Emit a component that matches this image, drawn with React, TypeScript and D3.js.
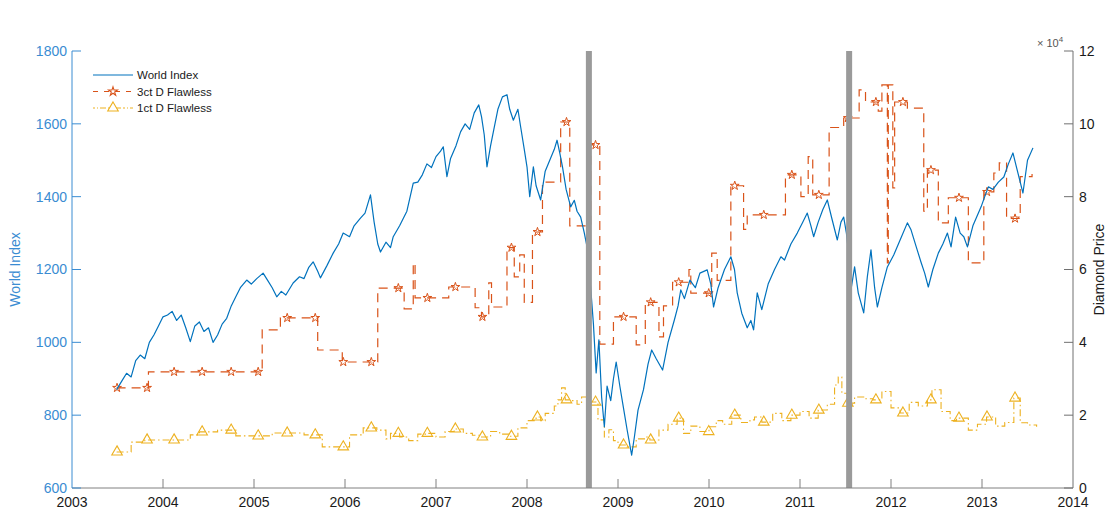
import { FC, useEffect, useRef } from 'react'
import * as d3 from 'd3'

type Pt = [number, number]

// MSCI World index level (year, index)
const worldIndex: Pt[] = [
  [2003.49, 870], [2003.55, 895], [2003.6, 915], [2003.65, 905], [2003.7, 950], [2003.75, 965],
  [2003.8, 955], [2003.85, 1000], [2003.9, 1020], [2003.95, 1045], [2004.0, 1070], [2004.05, 1075],
  [2004.1, 1085], [2004.15, 1060], [2004.2, 1075], [2004.25, 1040], [2004.3, 1002], [2004.35, 1045],
  [2004.4, 1056], [2004.45, 1030], [2004.5, 1040], [2004.55, 1000], [2004.6, 1020], [2004.65, 1050],
  [2004.7, 1066], [2004.75, 1100], [2004.8, 1125], [2004.85, 1150], [2004.92, 1171], [2004.97, 1160],
  [2005.03, 1175], [2005.1, 1190], [2005.15, 1170], [2005.2, 1150], [2005.25, 1125], [2005.3, 1140],
  [2005.35, 1130], [2005.43, 1163], [2005.5, 1180], [2005.55, 1175], [2005.6, 1205], [2005.65, 1221],
  [2005.7, 1195], [2005.73, 1177], [2005.8, 1210], [2005.87, 1245], [2005.93, 1270], [2005.98, 1300],
  [2006.05, 1290], [2006.1, 1320], [2006.17, 1341], [2006.22, 1355], [2006.28, 1405], [2006.32, 1330],
  [2006.36, 1270], [2006.39, 1248], [2006.45, 1275], [2006.5, 1260], [2006.53, 1290], [2006.6, 1320],
  [2006.68, 1360], [2006.75, 1437], [2006.8, 1440], [2006.85, 1460], [2006.9, 1490], [2006.95, 1480],
  [2007.0, 1510], [2007.05, 1525], [2007.08, 1537], [2007.12, 1455], [2007.16, 1505], [2007.22, 1540],
  [2007.27, 1578], [2007.32, 1600], [2007.37, 1585], [2007.42, 1630], [2007.47, 1652], [2007.5, 1620],
  [2007.53, 1570], [2007.56, 1482], [2007.6, 1540], [2007.64, 1590], [2007.68, 1640], [2007.73, 1674],
  [2007.78, 1680], [2007.81, 1640], [2007.85, 1610], [2007.9, 1640], [2007.93, 1592], [2007.97, 1530],
  [2008.0, 1482], [2008.03, 1400], [2008.07, 1482], [2008.1, 1430], [2008.15, 1391], [2008.2, 1470],
  [2008.25, 1500], [2008.3, 1530], [2008.33, 1555], [2008.36, 1520], [2008.39, 1482], [2008.43, 1420],
  [2008.48, 1372], [2008.52, 1390], [2008.55, 1360], [2008.59, 1344], [2008.63, 1300], [2008.66, 1262],
  [2008.7, 1150], [2008.73, 1050], [2008.76, 916], [2008.79, 1007], [2008.82, 850], [2008.85, 768],
  [2008.88, 880], [2008.92, 840], [2008.95, 900], [2008.98, 946], [2009.02, 880], [2009.06, 820],
  [2009.1, 760], [2009.15, 690], [2009.18, 740], [2009.22, 814], [2009.28, 870], [2009.33, 940],
  [2009.37, 979], [2009.42, 955], [2009.49, 924], [2009.55, 1000], [2009.62, 1062], [2009.66, 1100],
  [2009.69, 1144], [2009.73, 1120], [2009.79, 1171], [2009.85, 1150], [2009.9, 1190], [2009.98, 1199],
  [2010.02, 1160], [2010.05, 1097], [2010.1, 1150], [2010.17, 1200], [2010.24, 1235], [2010.28, 1200],
  [2010.31, 1136], [2010.36, 1080], [2010.42, 1040], [2010.46, 1060], [2010.49, 1034], [2010.53, 1136],
  [2010.58, 1090], [2010.65, 1160], [2010.72, 1200], [2010.79, 1235], [2010.83, 1226], [2010.9, 1270],
  [2010.97, 1300], [2011.03, 1330], [2011.08, 1355], [2011.12, 1320], [2011.15, 1290], [2011.2, 1330],
  [2011.25, 1364], [2011.3, 1391], [2011.35, 1340], [2011.41, 1281], [2011.45, 1330], [2011.48, 1344],
  [2011.51, 1300], [2011.54, 1230], [2011.56, 1144], [2011.6, 1207], [2011.64, 1136], [2011.7, 1081],
  [2011.74, 1180], [2011.78, 1254], [2011.82, 1150], [2011.85, 1097], [2011.9, 1150], [2011.96, 1207],
  [2012.03, 1240], [2012.1, 1281], [2012.18, 1328], [2012.22, 1309], [2012.28, 1260], [2012.33, 1220],
  [2012.37, 1190], [2012.41, 1152], [2012.46, 1200], [2012.52, 1245], [2012.57, 1270], [2012.62, 1300],
  [2012.66, 1262], [2012.71, 1344], [2012.76, 1300], [2012.8, 1290], [2012.84, 1262], [2012.9, 1320],
  [2012.99, 1372], [2013.03, 1400], [2013.07, 1427], [2013.12, 1420], [2013.18, 1440], [2013.24, 1454],
  [2013.29, 1490], [2013.34, 1520], [2013.38, 1480], [2013.42, 1440], [2013.45, 1410], [2013.5, 1500],
  [2013.56, 1534]
]

// 3ct D Flawless price in USD, holds until the next date
const flawless3ct: Pt[] = [
  [2003.49, 27500], [2003.84, 31900], [2005.09, 43400], [2005.29, 46700], [2005.70, 37900],
  [2005.97, 34600], [2006.36, 54900], [2006.65, 49200], [2006.75, 61800], [2006.77, 52200],
  [2007.14, 55200], [2007.43, 49500], [2007.50, 47000], [2007.58, 56300], [2007.61, 49700],
  [2007.78, 66000], [2007.86, 58000], [2007.92, 64000], [2007.97, 51000], [2008.06, 70300],
  [2008.17, 84000], [2008.37, 100500], [2008.47, 72000], [2008.70, 94200], [2008.80, 39500],
  [2008.95, 47000], [2009.20, 39300], [2009.30, 51000], [2009.45, 41500], [2009.50, 50000],
  [2009.60, 56500], [2009.78, 60000], [2009.80, 53500], [2010.03, 64500], [2010.09, 57000],
  [2010.24, 83000], [2010.38, 71000], [2010.42, 75000], [2010.84, 86000], [2011.01, 80000],
  [2011.09, 91000], [2011.14, 80500], [2011.32, 99000], [2011.48, 101600], [2011.65, 109300],
  [2011.72, 106000], [2011.86, 103500], [2011.90, 110700], [2011.96, 61800], [2011.97, 110700],
  [2012.02, 82400], [2012.04, 106000], [2012.18, 104300], [2012.36, 76000], [2012.40, 87300],
  [2012.52, 72800], [2012.63, 79700], [2012.85, 61800], [2013.02, 81300], [2013.13, 86500],
  [2013.19, 89300], [2013.27, 74000], [2013.42, 85500], [2013.55, 86200]
]

// 1ct D Flawless price in USD, holds until the next date
const flawless1ct: Pt[] = [
  [2003.49, 9900], [2003.65, 12600], [2003.80, 13200], [2004.30, 14600], [2004.40, 15400],
  [2004.60, 15900], [2004.80, 14300], [2005.20, 15100], [2005.55, 14600], [2005.75, 11300],
  [2006.05, 14600], [2006.20, 16500], [2006.35, 15900], [2006.45, 13500], [2006.5, 15000],
  [2006.6, 14000], [2006.7, 13000], [2006.8, 14800], [2006.9, 15000], [2007.0, 14000],
  [2007.1, 15500], [2007.2, 16200], [2007.3, 15000], [2007.4, 14500], [2007.5, 14000],
  [2007.6, 15500], [2007.7, 14800], [2007.8, 14200], [2007.9, 16500], [2008.0, 18500],
  [2008.1, 19500], [2008.15, 18500], [2008.2, 20500], [2008.3, 22500], [2008.34, 24200],
  [2008.38, 27500], [2008.42, 24200], [2008.5, 24000], [2008.55, 23000], [2008.6, 25000],
  [2008.7, 23600], [2008.78, 18700], [2008.85, 14000], [2008.9, 16000], [2008.95, 13000],
  [2009.0, 11800], [2009.1, 11300], [2009.2, 13500], [2009.3, 14000], [2009.35, 13200],
  [2009.45, 15900], [2009.55, 17500], [2009.65, 19200], [2009.72, 15000], [2009.8, 17000],
  [2009.9, 15500], [2010.0, 16800], [2010.08, 18500], [2010.15, 17500], [2010.25, 20000],
  [2010.35, 18000], [2010.45, 18700], [2010.50, 19500], [2010.58, 18100], [2010.7, 20500],
  [2010.8, 18500], [2010.9, 20000], [2011.0, 21000], [2011.1, 19200], [2011.2, 21400],
  [2011.3, 23000], [2011.38, 28300], [2011.42, 30500], [2011.46, 26000], [2011.52, 23300],
  [2011.6, 25000], [2011.7, 24500], [2011.8, 24200], [2011.9, 26500], [2012.0, 22000],
  [2012.1, 20600], [2012.2, 23500], [2012.3, 22500], [2012.4, 24200], [2012.45, 27000],
  [2012.55, 21000], [2012.65, 18500], [2012.72, 19200], [2012.85, 15900], [2012.95, 17500],
  [2013.05, 19500], [2013.15, 17000], [2013.25, 18000], [2013.35, 24700], [2013.42, 17900],
  [2013.5, 17300], [2013.6, 16800]
]

// dates where the diamond series carry a marker
const markerYears = [
  2003.495, 2003.825, 2004.122, 2004.43, 2004.749, 2005.046, 2005.365, 2005.673, 2005.981,
  2006.289, 2006.586, 2006.905, 2007.213, 2007.51, 2007.829, 2008.115, 2008.434, 2008.753,
  2009.061, 2009.359, 2009.667, 2009.997, 2010.283, 2010.602, 2010.91, 2011.207, 2011.526,
  2011.834, 2012.131, 2012.439, 2012.747, 2013.055, 2013.363
]

// Lehman collapse and the 2011 sell-off
const crisisYears = [2008.68, 2011.54]

const yearTicks = [2003, 2004, 2005, 2006, 2007, 2008, 2009, 2010, 2011, 2012, 2013, 2014]
const leftTicks = [600, 800, 1000, 1200, 1400, 1600, 1800]
const rightTicks = [0, 20000, 40000, 60000, 80000, 100000, 120000]

const BLUE = '#0072BD'
const BLUE_AXIS = '#3a8cd2'
const ORANGE = '#D95319'
const YELLOW = '#EDB120'
const FONT = 'Liberation Sans, Arial, Helvetica, sans-serif'

const width = 1119
const height = 510
const margin = { top: 51, right: 46, bottom: 22, left: 72 }

const stepValue = (data: Pt[], t: number) => {
  const i = d3.bisector((d: Pt) => d[0]).right(data, t) - 1
  return data[Math.max(0, i)][1]
}

const Chart: FC = () => {
  const svgRef = useRef<SVGSVGElement>(null)

  useEffect(() => {
    if (!svgRef.current) return
    const svg = d3.select(svgRef.current)
    svg.selectAll('*').remove()

    const x = d3.scaleLinear().domain([2003, 2014]).range([margin.left, width - margin.right])
    const yL = d3.scaleLinear().domain([600, 1800]).range([height - margin.bottom, margin.top])
    const yR = d3.scaleLinear().domain([0, 120000]).range([height - margin.bottom, margin.top])
    const bottom = height - margin.bottom
    const right = width - margin.right
    const tick = 9

    const lineL = d3.line<Pt>().x(d => x(d[0])).y(d => yL(d[1]))
    const stepR = d3.line<Pt>().x(d => x(d[0])).y(d => yR(d[1])).curve(d3.curveStepAfter)

    // diamond series
    svg.append('path').datum(flawless1ct)
      .attr('d', stepR).attr('fill', 'none').attr('stroke', YELLOW)
      .attr('stroke-width', 1.1).attr('stroke-dasharray', '7,3,1.5,3')
    svg.append('path').datum(flawless3ct)
      .attr('d', stepR).attr('fill', 'none').attr('stroke', ORANGE)
      .attr('stroke-width', 1.2).attr('stroke-dasharray', '9,6')

    const star = d3.symbol(d3.symbolStar, 24)
    const tri = d3.symbol(d3.symbolTriangle, 48)

    svg.append('g').selectAll('path').data(markerYears).join('path')
      .attr('d', tri)
      .attr('transform', d => `translate(${x(d)},${yR(stepValue(flawless1ct, d))})`)
      .attr('fill', 'none').attr('stroke', YELLOW).attr('stroke-width', 1.1)

    svg.append('g').selectAll('path').data(markerYears).join('path')
      .attr('d', star)
      .attr('transform', d => `translate(${x(d)},${yR(stepValue(flawless3ct, d))})`)
      .attr('fill', 'none').attr('stroke', ORANGE).attr('stroke-width', 1)

    // world index
    svg.append('path').datum(worldIndex)
      .attr('d', lineL).attr('fill', 'none').attr('stroke', BLUE)
      .attr('stroke-width', 1.2).attr('stroke-linejoin', 'round')

    // crisis markers
    svg.append('g').selectAll('rect').data(crisisYears).join('rect')
      .attr('x', d => x(d) - 3).attr('width', 6)
      .attr('y', margin.top).attr('height', bottom - margin.top)
      .attr('fill', '#9a9a9a')

    // bottom axis
    const gx = svg.append('g')
    gx.append('line').attr('x1', margin.left).attr('x2', right)
      .attr('y1', bottom).attr('y2', bottom).attr('stroke', '#808080')
    gx.selectAll('line.t').data(yearTicks.slice(1, -1)).join('line').attr('class', 't')
      .attr('x1', d => x(d)).attr('x2', d => x(d))
      .attr('y1', bottom).attr('y2', bottom - tick).attr('stroke', '#808080')
    gx.selectAll('text').data(yearTicks).join('text')
      .attr('x', d => x(d)).attr('y', 507).attr('text-anchor', 'middle')
      .attr('font-size', 14).attr('font-family', FONT).attr('fill', '#1a1a1a')
      .text(d => String(d))

    // left axis
    const gl = svg.append('g')
    gl.append('line').attr('x1', margin.left).attr('x2', margin.left)
      .attr('y1', margin.top).attr('y2', bottom).attr('stroke', BLUE_AXIS)
    gl.selectAll('line.t').data(leftTicks).join('line').attr('class', 't')
      .attr('x1', margin.left).attr('x2', margin.left + tick)
      .attr('y1', d => yL(d)).attr('y2', d => yL(d)).attr('stroke', BLUE_AXIS)
    gl.selectAll('text').data(leftTicks).join('text')
      .attr('x', margin.left - 5).attr('y', d => yL(d)).attr('dy', '0.35em')
      .attr('text-anchor', 'end').attr('font-size', 14).attr('font-family', FONT)
      .attr('fill', BLUE_AXIS).text(d => String(d))
    gl.append('text')
      .attr('transform', `translate(20,${(margin.top + bottom) / 2}) rotate(-90)`)
      .attr('text-anchor', 'middle').attr('font-size', 14).attr('font-family', FONT)
      .attr('fill', BLUE_AXIS).text('World Index')

    // right axis
    const gr = svg.append('g')
    gr.append('line').attr('x1', right).attr('x2', right)
      .attr('y1', margin.top).attr('y2', bottom).attr('stroke', '#707070')
    gr.selectAll('line.t').data(rightTicks).join('line').attr('class', 't')
      .attr('x1', right).attr('x2', right - tick)
      .attr('y1', d => yR(d)).attr('y2', d => yR(d)).attr('stroke', '#707070')
    gr.selectAll('text.l').data(rightTicks).join('text').attr('class', 'l')
      .attr('x', right + 6).attr('y', d => yR(d)).attr('dy', '0.35em')
      .attr('font-size', 14).attr('font-family', FONT).attr('fill', '#1a1a1a')
      .text(d => String(d / 10000))
    const exp = gr.append('text').attr('x', right - 36).attr('y', 47)
      .attr('font-size', 11).attr('font-family', FONT).attr('fill', '#555')
    exp.append('tspan').text('\u00d7 10')
    exp.append('tspan').attr('dy', -5).attr('font-size', 8).text('4')
    gr.append('text')
      .attr('transform', `translate(1104,${(margin.top + bottom) / 2}) rotate(-90)`)
      .attr('text-anchor', 'middle').attr('font-size', 14).attr('font-family', FONT)
      .attr('fill', '#1a1a1a').text('Diamond Price')

    // legend
    const legend = [
      { label: 'World Index', color: BLUE, dash: null, marker: null },
      { label: '3ct D Flawless', color: ORANGE, dash: '5,6', marker: star },
      { label: '1ct D Flawless', color: YELLOW, dash: '2,2,1,2,6,2', marker: tri }
    ]
    const lg = svg.append('g').attr('transform', 'translate(93,75)')
    legend.forEach((e, i) => {
      const row = lg.append('g').attr('transform', `translate(0,${i * 16.5})`)
      row.append('line').attr('x1', 0).attr('x2', 40).attr('y1', 0).attr('y2', 0)
        .attr('stroke', e.color).attr('stroke-width', 1.2)
        .attr('stroke-dasharray', e.dash ?? null)
      if (e.marker) {
        row.append('path').attr('d', e.marker).attr('transform', 'translate(20,0)')
          .attr('fill', 'white').attr('stroke', e.color).attr('stroke-width', 1.1)
      }
      row.append('text').attr('x', 44).attr('y', 0).attr('dy', '0.35em')
        .attr('font-size', 11.5).attr('font-family', FONT).attr('fill', '#1a1a1a')
        .text(e.label)
    })
  }, [])

  return <svg ref={svgRef} width={width} height={height}
    style={{ position: 'absolute', left: 0, top: 0, background: 'white' }} />
}

export default function App() {
  return <Chart />
}
